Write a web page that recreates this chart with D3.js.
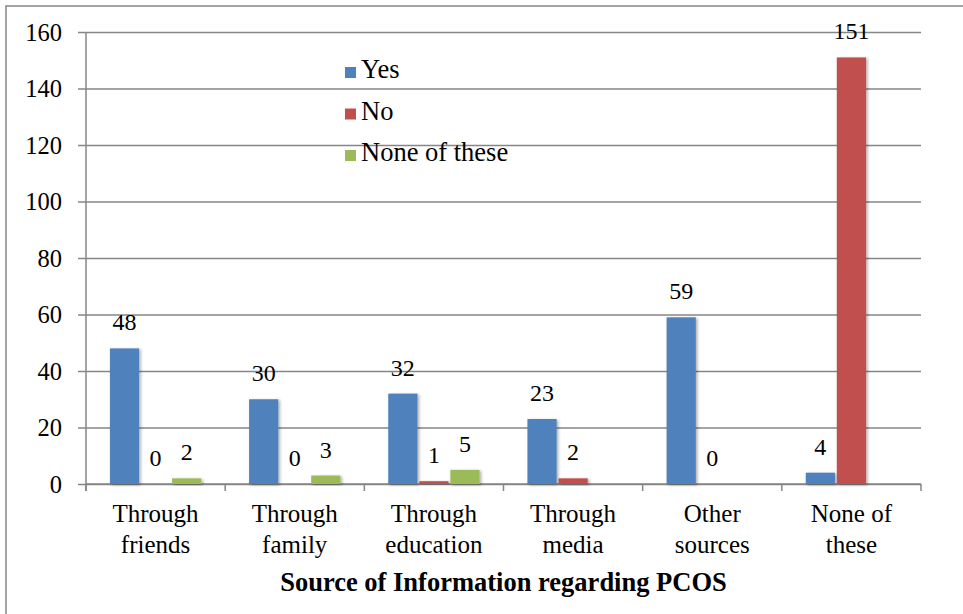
<!DOCTYPE html>
<html>
<head>
<meta charset="utf-8">
<script src="https://cdn.jsdelivr.net/npm/d3@7"></script>
<style>
  html, body { margin: 0; padding: 0; background: #fff; }
  svg { display: block; }
</style>
</head>
<body>
<svg id="chart" width="963" height="614"></svg>
<script>
const categories = ["Through friends", "Through family", "Through education", "Through media", "Other sources", "None of these"];
const categoryLines = [["Through", "friends"], ["Through", "family"], ["Through", "education"], ["Through", "media"], ["Other", "sources"], ["None of", "these"]];
const seriesNames = ["Yes", "No", "None of these"];
const yesValues = [48, 30, 32, 23, 59, 4];
const noValues = [0, 0, 1, 2, 0, 151];
const noneValues = [2, 3, 5, null, null, null];
const yTicks = [0, 20, 40, 60, 80, 100, 120, 140, 160];
const xTitle = "Source of Information regarding PCOS";
const colors = ["#4F81BD", "#C0504D", "#9BBB59"];

const seriesValues = [yesValues, noValues, noneValues];
const SERIF = "'Liberation Serif', 'Times New Roman', Times, serif";

const svg = d3.select("#chart");
const W = 963, H = 614;
const pLeft = 86, pRight = 921, pTop = 32, pBottom = 484;

// outer border
svg.append("rect").attr("x", 6).attr("y", 6).attr("width", W + 10).attr("height", H + 10)
  .attr("fill", "#fff").attr("stroke", "#868686").attr("stroke-width", 1.5);

const defs = svg.append("defs");
const f = defs.append("filter").attr("id", "shadow").attr("x", "-30%").attr("y", "-10%").attr("width", "160%").attr("height", "130%");
f.append("feDropShadow").attr("dx", 1.5).attr("dy", 1).attr("stdDeviation", 1.5)
  .attr("flood-color", "#000").attr("flood-opacity", 0.35);

const y = d3.scaleLinear().domain([0, 160]).range([pBottom, pTop]);
const x0 = d3.scaleBand().domain(categories).range([pLeft, pRight]).padding(0);
const x1 = d3.scaleBand().domain(seriesNames)
  .range([x0.bandwidth() * 0.172, x0.bandwidth() * 0.828]).paddingInner(0.06).paddingOuter(0);

// gridlines + y ticks
const yAxis = d3.axisLeft(y).tickValues(yTicks).tickSize(-(pRight - pLeft)).tickSizeOuter(0).tickPadding(16);
const gy = svg.append("g").attr("transform", `translate(${pLeft},0)`).call(yAxis);
gy.select(".domain").remove();
gy.selectAll(".tick line").attr("stroke", "#868686").attr("stroke-width", 1.5).attr("x1", -8);
gy.selectAll(".tick text").style("font-size", "24.5px").style("font-family", SERIF).attr("fill", "#000")
  .attr("x", -24).attr("dy", "0.34em");

// y axis line
svg.append("line").attr("x1", pLeft).attr("x2", pLeft).attr("y1", pTop).attr("y2", pBottom + 7)
  .attr("stroke", "#868686").attr("stroke-width", 1.5);

// x axis
const xAxis = d3.axisBottom(x0).tickSize(0).tickFormat("");
const gx = svg.append("g").attr("transform", `translate(0,${pBottom})`).call(xAxis);
gx.select(".domain").attr("stroke", "#868686").attr("stroke-width", 1.5).attr("d", `M${pLeft},0H${pRight}`);
gx.selectAll(".tick").remove();
const boundaries = categories.map(c => x0(c)).concat([x0(categories[categories.length - 1]) + x0.bandwidth()]);
gx.selectAll("line.bt").data(boundaries).enter().append("line")
  .attr("x1", d => d).attr("x2", d => d).attr("y1", 0).attr("y2", 7)
  .attr("stroke", "#868686").attr("stroke-width", 1.5);

// category labels
const cl = svg.append("g");
categories.forEach((c, i) => {
  const cx = x0(c) + x0.bandwidth() / 2;
  const t = cl.append("text").attr("text-anchor", "middle")
    .style("font-size", "25px").style("font-family", SERIF).attr("fill", "#000");
  categoryLines[i].forEach((ln, j) => {
    t.append("tspan").attr("x", cx).attr("y", 522 + j * 31).text(ln);
  });
});

// axis title
svg.append("text").attr("x", (pLeft + pRight) / 2).attr("y", 591).attr("text-anchor", "middle")
  .style("font-size", "26.5px").style("font-family", SERIF).style("font-weight", "bold").attr("fill", "#000")
  .text(xTitle);

// bars
const groups = svg.append("g").selectAll("g").data(categories).enter().append("g")
  .attr("transform", c => `translate(${x0(c)},0)`);

const items = (c, ci) => seriesNames.map((s, si) => ({ s, si, v: seriesValues[si][ci] }));

groups.each(function(c, ci) {
  const g = d3.select(this);
  const data = items(c, ci).filter(d => d.v !== null);
  g.selectAll("rect").data(data).enter().append("rect")
    .attr("x", d => x1(d.s)).attr("width", x1.bandwidth())
    .attr("y", d => y(d.v)).attr("height", d => y(0) - y(d.v))
    .attr("fill", d => colors[d.si])
    .attr("filter", d => d.v > 0 ? "url(#shadow)" : null);
  g.selectAll("text").data(data).enter().append("text")
    .attr("x", d => x1(d.s) + x1.bandwidth() / 2)
    .attr("y", d => y(d.v) - 18)
    .attr("text-anchor", "middle")
    .style("font-size", "24px").style("font-family", SERIF).attr("fill", "#000")
    .text(d => d.v);
});

// legend
const legend = svg.append("g").attr("transform", "translate(345,0)");
seriesNames.forEach((s, i) => {
  const ly = 78 + i * 41.5;
  legend.append("rect").attr("x", 0).attr("y", ly - 11).attr("width", 11).attr("height", 11).attr("fill", colors[i]);
  legend.append("text").attr("x", 16).attr("y", ly)
    .style("font-size", "26.5px").style("font-family", SERIF).attr("fill", "#000").text(s);
});
</script>
</body>
</html>
